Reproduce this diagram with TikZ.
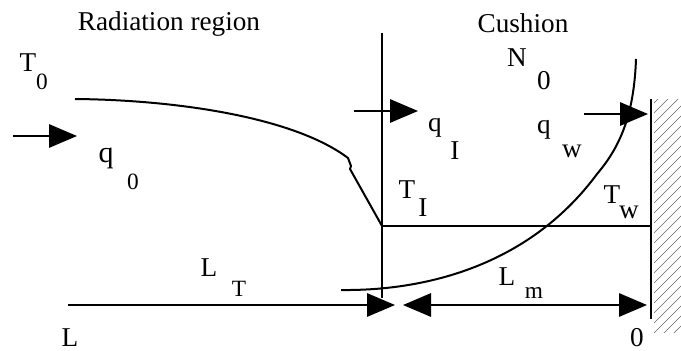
\documentclass[tikz,border=0pt]{standalone}
\usepackage{fontspec}
\setmainfont{Liberation Serif}
\usetikzlibrary{arrows.meta}
\tikzset{
  lbl/.style={anchor=base,inner sep=0pt,outer sep=0pt,font=\fontsize{20.4}{24}\selectfont},
  sublbl/.style={lbl,font=\fontsize{17.5}{21}\selectfont},
  biglbl/.style={lbl,font=\fontsize{22.5}{26}\selectfont},
  ln/.style={line width=1.5pt,black,line join=round},
  head/.style={line width=1.5pt,black,-{Triangle[length=21pt,width=17.5pt]}},
  dhead/.style={line width=1.5pt,black,{Triangle[length=21pt,width=17.5pt]}-{Triangle[length=21pt,width=17.5pt]}},
  hatchline/.style={line width=0.5pt,black!60}
}
\begin{document}
\begin{tikzpicture}[x=0.75pt,y=-0.75pt]
\useasboundingbox (0,0) rectangle (681,350);
% coordinates
\coordinate (vt) at (382,33);
\coordinate (vb) at (382,298);
\coordinate (knee) at (382,226);
\coordinate (wallT) at (651,226);
\coordinate (wt) at (651,99);
\coordinate (wb) at (651,319);
\coordinate (q0a) at (13,136);
\coordinate (q0b) at (77,136);
\coordinate (qIa) at (354,111);
\coordinate (qIb) at (418,111);
\coordinate (qwa) at (584,114);
\coordinate (qwb) at (648,114);
\coordinate (lta) at (68,305);
\coordinate (ltb) at (395,305);
\coordinate (lma) at (403,305);
\coordinate (lmb) at (647,305);
\coordinate (c1) at (75,99);
\coordinate (c2) at (348,158);
\coordinate (c3) at (351,166);
\coordinate (c4) at (350,169);
\coordinate (d1) at (341,290);
\coordinate (d2) at (597,174);
\coordinate (d3) at (636,59);
% hatching
\begin{scope}
\clip (654,99) rectangle (681,332);
\foreach \y in {105,115,...,375}
  \draw[hatchline] (652,\y) -- (690,\y-38);
\end{scope}
% lines
\draw[ln] (wt) -- (wb);
\draw[ln] (vt) -- (vb);
\draw[ln] (knee) -- (wallT);
\draw[ln] (c1) .. controls (180,100) and (295,118) .. (c2) -- (c3) -- (c4) -- (knee);
\draw[ln] (d1) .. controls (432,291) and (532,262) .. (d2) .. controls (620,147) and (634,115) .. (d3);
% arrows
\draw[head] (q0a) -- (q0b);
\draw[head] (qIa) -- (qIb);
\draw[head] (qwa) -- (qwb);
\draw[head] (lta) -- (ltb);
\draw[dhead] (lma) -- (lmb);
% labels
\node[lbl] (rad) at (169,30) {Radiation region};
\node[lbl] (cush) at (523,32) {Cushion};
\node[lbl] (T0) at (28,71) {T};
\node[sublbl] (T0s) at (42,89) {0};
\node[biglbl] (q0) at (106,162) {q};
\node[sublbl] (q0s) at (133,189) {0};
\node[lbl] (N0) at (517,66) {N};
\node[lbl] (N0s) at (544,89) {0};
\node[lbl] (qI) at (435,131) {q};
\node[lbl] (qIs) at (455,159) {I};
\node[lbl] (qw) at (544,133) {q};
\node[lbl] (qws) at (572,157) {w};
\node[lbl] (TI) at (407,198) {T};
\node[lbl] (TIs) at (423,216) {I};
\node[lbl] (Tw) at (612,203) {T};
\node[lbl] (Tws) at (629,218) {w};
\node[lbl] (Lm) at (507,285) {L};
\node[sublbl] (Lms) at (534,298) {m};
\node[lbl] (LT) at (209,276) {L};
\node[sublbl] (LTs) at (239,296) {T};
\node[lbl] (Lend) at (70,346) {L};
\node[lbl] (zero) at (637,346) {0};
\end{tikzpicture}
\end{document}
